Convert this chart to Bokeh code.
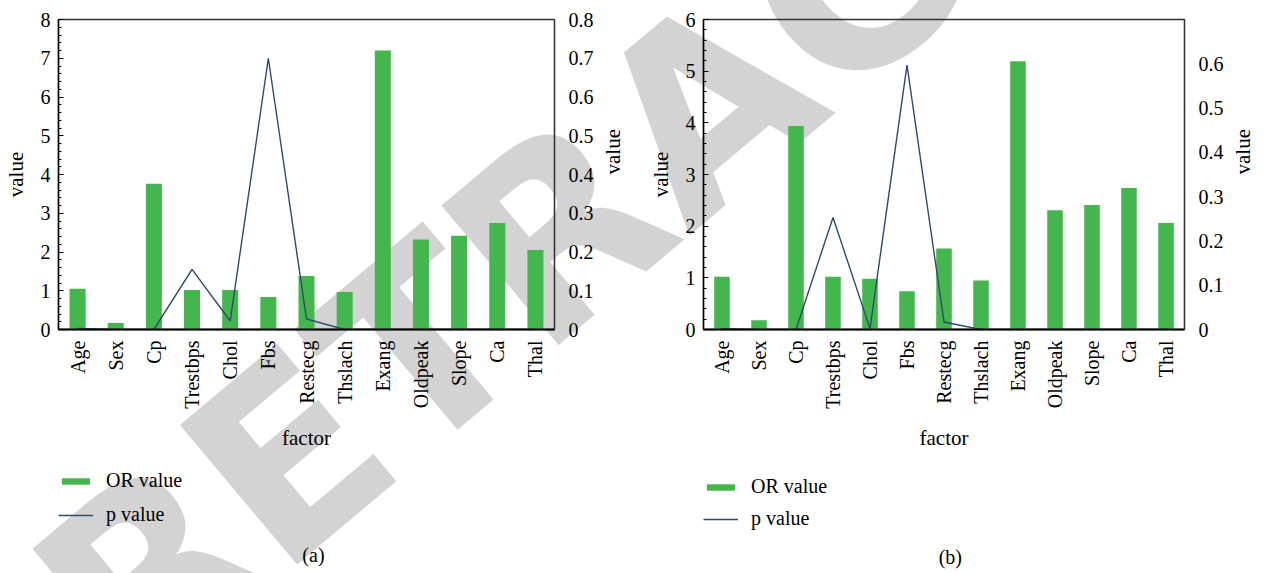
import math
from bokeh.plotting import figure
from bokeh.layouts import row, column
from bokeh.models import (Range1d, LinearAxis, SingleIntervalTicker, CustomJSTickFormatter,
                          Legend, LegendItem, Label, Div, ColumnDataSource)
from bokeh.embed import file_html
from bokeh.resources import INLINE

# factors examined
factors = ["Age", "Sex", "Cp", "Trestbps", "Chol", "Fbs", "Restecg",
           "Thslach", "Exang", "Oldpeak", "Slope", "Ca", "Thal"]

# panel (a)
or_a = [1.05, 0.17, 3.76, 1.02, 1.02, 0.84, 1.38, 0.97, 7.20, 2.32, 2.42, 2.75, 2.05]
p_a = [0.003, 0.0, 0.0, 0.155, 0.022, 0.700, 0.027, 0.0, 0.0, 0.0, 0.0, 0.0, 0.0]

# panel (b)
or_b = [1.02, 0.18, 3.94, 1.02, 0.98, 0.74, 1.57, 0.95, 5.19, 2.31, 2.41, 2.74, 2.06]
p_b = [0.002, 0.0, 0.0, 0.253, 0.002, 0.597, 0.017, 0.0, 0.0, 0.0, 0.0, 0.0, 0.0]

or_max = [8, 6]
p_max = [0.8, 0.7]
panel_tags = ["(a)", "(b)"]

BAR = "#43b64e"
LINE = "#2f4b6b"
FONT = "Liberation Serif"
PAGE_W, PAGE_H = 1269, 573
CHART_H, KEY_H = 454, 118


def style_axis(ax):
    ax.major_label_text_font = FONT
    ax.major_label_text_font_size = "20px"
    ax.major_label_text_color = "black"
    ax.axis_label_text_font = FONT
    ax.axis_label_text_font_size = "21px"
    ax.axis_label_text_font_style = "normal"
    ax.axis_label_text_color = "black"


def make_chart(or_vals, p_vals, ymax, pmax, width, left, frame_w):
    top, frame_h = 19, 310
    p = figure(x_range=factors, y_range=Range1d(0, ymax),
               width=width, height=CHART_H,
               min_border_left=left, min_border_right=width - left - frame_w,
               min_border_top=top, min_border_bottom=CHART_H - top - frame_h,
               output_backend="svg", toolbar_location=None)
    p.extra_y_ranges = {"p": Range1d(0, pmax)}
    p.grid.visible = False
    p.border_fill_alpha = 0
    p.background_fill_alpha = 0
    p.outline_line_color = "#333333"
    p.outline_line_width = 1.3

    src = ColumnDataSource(dict(f=factors, v=or_vals, pv=p_vals))
    p.vbar(x="f", top="v", width=0.42, source=src, fill_color=BAR, line_color=None)
    p.line(x="f", y="pv", source=src, y_range_name="p", line_color=LINE, line_width=1.4)

    # left axis: odds ratios
    ya = p.yaxis[0]
    ya.ticker = SingleIntervalTicker(interval=1, num_minor_ticks=5)
    ya.axis_label = "value"
    ya.major_tick_in, ya.major_tick_out = 5, 0
    ya.minor_tick_in, ya.minor_tick_out = 3, 0
    ya.axis_line_width = 1.5
    ya.major_label_standoff = 8
    ya.axis_label_standoff = 10

    # right axis: p values
    ra = LinearAxis(y_range_name="p", axis_label="value",
                    ticker=SingleIntervalTicker(interval=0.1, num_minor_ticks=1),
                    formatter=CustomJSTickFormatter(code="return Math.abs(tick) < 1e-9 ? '0' : tick.toFixed(1);"))
    ra.major_tick_line_color = None
    ra.minor_tick_line_color = None
    ra.axis_line_color = "#333333"
    ra.axis_line_width = 1.3
    ra.major_label_standoff = 8
    ra.axis_label_standoff = 16
    try:
        ra.axis_label_orientation = math.pi / 2
    except AttributeError:
        pass
    p.add_layout(ra, "right")

    xa = p.xaxis[0]
    xa.axis_label = "factor"
    xa.major_label_orientation = math.pi / 2
    xa.major_tick_line_color = None
    xa.axis_line_width = 2
    xa.major_label_standoff = 5
    xa.axis_label_standoff = 14

    for ax in (ya, ra, xa):
        style_axis(ax)
    return p


def make_key(or_vals, p_vals, tag, width, left, frame_w, legend_y, spacing, tag_x, tag_y):
    # strip under each chart holding its legend and panel tag (data units = pixels)
    k = figure(width=width, height=KEY_H,
               x_range=Range1d(0, frame_w), y_range=Range1d(0, KEY_H),
               min_border_left=left, min_border_right=width - left - frame_w,
               min_border_top=0, min_border_bottom=0,
               x_axis_type=None, y_axis_type=None,
               output_backend="svg", toolbar_location=None)
    k.grid.visible = False
    k.outline_line_color = None
    k.border_fill_alpha = 0
    k.background_fill_alpha = 0

    # hidden copies of the series, only used as legend swatches
    src = ColumnDataSource(dict(x=list(range(len(factors))), v=or_vals, pv=p_vals))
    bars = k.vbar(x="x", top="v", width=0.42, source=src, fill_color=BAR, line_color=None,
                  visible=False)
    line = k.line(x="x", y="pv", source=src, line_color=LINE, line_width=1.4, visible=False)

    legend = Legend(items=[LegendItem(label="OR value", renderers=[bars]),
                           LegendItem(label="p value", renderers=[line])],
                    location=(0, legend_y), orientation="vertical",
                    glyph_width=35, glyph_height=8, spacing=spacing, padding=0, margin=0,
                    label_standoff=13, border_line_color=None, background_fill_alpha=0,
                    inactive_fill_alpha=0,
                    label_text_font=FONT, label_text_font_size="20px",
                    label_text_color="black")
    k.add_layout(legend, "center")

    k.add_layout(Label(x=tag_x, y=tag_y, text=tag, text_font=FONT, text_font_size="20px",
                       text_color="black", text_align="center", text_baseline="middle"))
    return k


ca = make_chart(or_a, p_a, or_max[0], p_max[0], 640, 56, 498)
cb = make_chart(or_b, p_b, or_max[1], p_max[1], 629, 63, 497)
ka = make_key(or_a, p_a, panel_tags[0], 640, 56, 498, 46, 11, 256, 18)
kb = make_key(or_b, p_b, panel_tags[1], 629, 63, 497, 42, 9, 255, 16)

# diagonal stamp printed across both panels, behind the charts
stamp = ("<div style=\"position:absolute;left:127px;top:487px;transform-origin:0 211px;"
         "transform:rotate(-40deg);font-family:'DejaVu Sans';font-weight:bold;font-size:250px;"
         "line-height:250px;color:#d3d3d3;white-space:nowrap;\">RETRACTED</div>")
mark = Div(text=stamp, width=1, height=1,
           styles={"position": "absolute", "left": "0px", "top": "0px",
                   "z-index": "-1", "overflow": "visible"})

panels = row(column(ca, ka, spacing=0), column(cb, kb, spacing=0), spacing=0)
layout = column(mark, panels, spacing=0)
open("out.html", "w").write(file_html(layout, INLINE))
